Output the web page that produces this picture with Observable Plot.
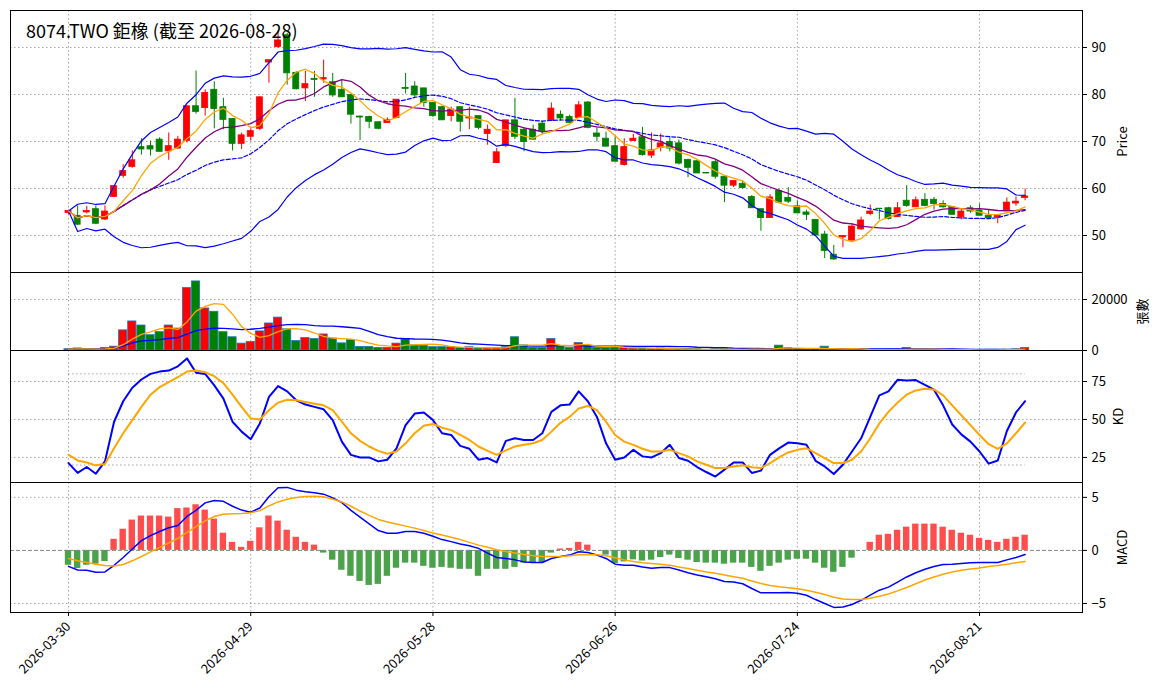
<!DOCTYPE html>
<html><head><meta charset="utf-8">
<script src="https://cdn.jsdelivr.net/npm/d3@7"></script>
<script src="https://cdn.jsdelivr.net/npm/@observablehq/plot@0.6"></script>
<style>
body{margin:0;background:#fff;font-family:"Noto Sans CJK TC","Noto Sans",sans-serif;}
#chart{position:relative;width:1164px;}
#chart svg{display:block;overflow:visible;position:relative;}
#title{position:absolute;left:26px;top:17px;font-size:18px;color:#000;z-index:2;}
</style></head><body>
<div id="chart"><div id="title">8074.TWO 鉅橡 (截至 2026-08-28)</div></div>
<script>
// price data, one bar per trading day
const openP = [54.8,54.2,54.9,55.6,53.4,58.2,62.7,64.6,68.8,69.0,70.4,67.9,68.5,70.1,77.5,77.1,81.0,77.3,74.8,69.5,71.0,72.7,86.8,90.1,92.6,84.6,
81.3,83.3,83.2,82.6,81.0,79.9,75.3,75.2,74.1,73.9,75.0,81.4,81.7,81.3,78.2,77.3,75.4,77.3,74.9,75.4,71.6,65.4,69.0,74.5,72.5,72.5,
73.8,74.4,75.7,75.2,75.0,78.3,71.7,70.6,69.0,65.0,70.1,70.9,67.0,68.7,69.9,69.6,66.1,65.8,63.3,65.6,62.5,60.6,61.0,58.2,55.6,53.7,59.5,
58.0,56.2,54.9,53.3,50.2,45.9,49.6,48.9,51.3,54.6,55.7,55.8,53.9,57.4,56.0,57.6,57.6,56.7,56.1,53.9,55.8,55.3,54.2,53.9,55.4,56.8,58.0];
const highP = [55.4,56.3,56.2,56.3,56.3,60.6,65.1,68.0,70.6,70.1,70.8,71.8,71.1,77.5,85.0,81.0,82.7,79.2,74.8,71.8,72.7,79.4,87.3,93.5,93.0,84.9,
84.9,84.9,87.3,84.5,83.1,79.9,75.4,75.4,74.1,75.0,78.9,84.5,82.7,81.3,78.2,77.5,77.3,77.3,77.3,75.4,73.5,68.5,74.4,79.2,73.0,73.5,
74.3,78.2,76.5,75.6,78.5,78.5,72.9,72.0,71.1,70.6,71.5,73.0,71.8,71.6,70.8,70.3,66.2,66.0,63.3,66.0,62.5,61.6,61.6,58.5,55.6,58.7,59.9,
60.2,57.4,55.4,53.3,50.9,47.9,49.9,52.5,53.9,56.5,55.7,56.0,57.0,60.6,58.2,58.9,58.1,57.4,56.1,55.6,56.3,56.7,55.4,54.2,58.0,58.2,59.9];
const lowP = [54.4,52.1,54.6,52.3,53.2,58.1,62.2,64.3,67.1,66.9,67.8,66.0,68.3,69.7,75.8,75.4,72.7,72.5,68.0,68.3,70.1,72.3,82.4,89.8,82.0,81.0,
78.5,79.4,82.4,79.4,79.4,73.7,70.2,72.7,72.5,73.9,74.9,80.1,79.4,77.3,75.1,74.5,74.2,72.0,72.5,72.5,69.2,65.3,68.7,70.4,67.8,70.2,
71.5,74.4,74.3,73.9,74.9,72.7,69.9,68.9,65.7,64.8,70.1,66.9,66.4,67.8,67.8,65.0,62.3,63.2,63.1,62.0,57.0,60.2,59.9,55.8,50.9,53.7,57.0,
56.8,54.7,53.2,50.0,45.1,44.7,47.4,48.9,51.1,54.2,53.3,53.3,53.9,56.0,56.0,56.1,55.4,55.8,54.4,53.3,54.7,54.2,53.7,52.5,55.3,56.2,57.4];
const closeP = [55.2,52.3,55.2,52.5,55.1,60.5,63.7,66.0,68.3,68.3,67.8,69.0,70.4,77.5,76.3,80.3,76.9,74.6,69.5,71.3,72.2,79.4,87.3,91.5,84.5,81.1,
82.2,83.1,83.5,79.8,79.4,75.7,75.1,74.2,72.7,74.6,78.9,81.2,79.8,78.2,75.4,74.5,76.8,74.2,75.1,72.9,72.5,67.7,74.5,71.0,69.9,70.4,
72.2,77.0,74.9,73.9,77.7,72.9,71.0,68.9,65.7,68.8,70.6,67.1,68.1,69.6,68.5,65.3,64.4,63.2,63.2,62.5,60.6,61.6,60.1,55.8,53.7,58.1,57.0,
57.2,54.7,54.4,50.0,46.7,44.9,49.9,51.9,53.2,55.1,55.6,53.5,55.8,56.3,57.5,56.3,56.7,56.0,54.4,55.1,55.1,54.2,53.7,54.2,57.0,57.2,58.3];
const volume = [500,800,500,500,1000,1500,7900,11400,9800,6000,7200,9800,8600,24500,27100,16500,15200,7200,5200,2700,3300,7500,10600,12900,8300,3700,
4900,4500,6300,4700,2800,4100,1400,1400,1000,1000,2700,4500,2000,1800,1300,1300,1300,1000,1300,800,1000,1000,1300,5200,2000,1000,
1000,4500,1800,1000,2900,1800,1000,1000,1500,1100,800,800,500,800,400,500,600,500,300,500,600,400,400,600,700,500,1900,
900,500,400,600,1500,500,300,500,400,300,300,400,400,1000,400,400,300,300,300,300,300,200,300,300,400,500,1000];
// KD
const kVals = [21.3,14.8,18.7,14.3,22.4,48.5,62.0,70.9,76.3,80.0,81.5,82.2,85.0,90.2,80.7,80.0,72.4,63.7,48.5,42.0,37.0,47.4,64.8,72.0,68.5,62.6,
59.8,58.3,56.7,49.6,35.4,26.7,25.0,25.0,22.4,23.5,31.0,46.3,53.9,54.6,49.6,40.9,39.8,32.6,30.7,23.5,24.6,21.7,35.9,37.6,36.5,36.5,
40.9,55.0,59.3,59.8,68.5,62.0,51.7,34.3,23.5,25.0,30.0,25.7,25.0,27.8,33.3,24.6,22.8,18.7,15.4,12.4,17.0,21.7,21.7,14.8,16.3,26.7,31.0,
34.8,34.3,33.3,22.8,19.1,14.1,20.2,28.9,37.6,51.7,65.9,68.5,76.1,75.7,75.9,72.8,69.6,59.3,46.7,40.2,35.4,28.9,20.9,23.0,42.4,54.6,62.0];
const dVals = [26.7,23.0,21.7,19.8,20.7,31.0,40.9,49.6,58.3,66.3,71.3,74.6,77.8,81.5,82.2,81.1,78.5,73.9,66.3,58.3,50.7,50.0,56.1,61.1,63.0,62.6,
61.5,60.4,59.3,56.1,48.5,40.9,35.9,32.2,29.3,27.4,28.9,34.3,40.9,45.9,47.0,44.6,43.0,39.8,36.5,32.2,29.3,26.7,29.6,32.2,33.3,34.3,
36.5,42.0,47.8,51.7,57.2,58.9,56.1,48.5,39.8,35.4,33.3,30.7,28.9,28.9,30.0,27.8,25.7,22.4,20.2,18.0,18.0,19.1,19.8,18.5,18.0,21.3,25.0,
28.3,30.0,31.1,27.8,24.6,21.3,21.3,23.5,28.9,37.6,47.4,55.0,61.1,66.3,69.1,70.2,69.8,65.9,59.3,52.8,46.3,39.8,33.7,30.7,34.3,40.9,48.0];
// MACD
const difVals = [-1.5,-1.84,-1.87,-2.06,-2.03,-1.4,-0.67,0.13,0.92,1.4,1.78,2.13,2.35,3.2,3.78,4.48,4.7,4.63,4.16,3.8,3.6,4.0,5.05,5.9,5.94,5.68,
5.52,5.43,5.3,4.95,4.5,3.78,3.14,2.5,1.87,1.62,1.62,1.78,1.78,1.62,1.33,1.02,0.83,0.6,0.44,0.19,-0.25,-0.67,-0.76,-0.89,-1.08,-1.14,
-1.14,-0.76,-0.57,-0.44,-0.13,-0.19,-0.44,-0.76,-1.3,-1.4,-1.4,-1.56,-1.68,-1.62,-1.62,-1.84,-2.1,-2.32,-2.48,-2.67,-2.92,-2.98,-3.14,-3.59,-4.0,-4.0,-4.0,
-3.97,-4.03,-4.22,-4.63,-5.0,-5.37,-5.33,-5.1,-4.7,-4.22,-3.75,-3.46,-2.98,-2.5,-2.1,-1.78,-1.52,-1.33,-1.3,-1.24,-1.17,-1.14,-1.14,-1.14,-0.89,-0.67,-0.38];
const deaVals = [-0.76,-0.98,-1.14,-1.3,-1.43,-1.46,-1.33,-0.98,-0.57,-0.13,0.29,0.7,1.14,1.71,2.25,2.79,3.2,3.4,3.46,3.49,3.56,3.75,4.19,4.57,4.83,4.98,
5.08,5.1,5.05,4.83,4.57,4.16,3.71,3.3,2.92,2.67,2.48,2.29,2.1,1.87,1.65,1.46,1.24,1.02,0.76,0.5,0.29,0.06,-0.1,-0.25,-0.38,-0.5,
-0.57,-0.57,-0.57,-0.5,-0.41,-0.38,-0.41,-0.5,-0.7,-0.89,-1.05,-1.17,-1.24,-1.3,-1.4,-1.56,-1.71,-1.87,-2.03,-2.16,-2.32,-2.48,-2.63,-2.89,-3.11,-3.3,-3.43,
-3.52,-3.62,-3.75,-3.94,-4.16,-4.41,-4.57,-4.63,-4.63,-4.5,-4.32,-4.1,-3.81,-3.49,-3.14,-2.79,-2.5,-2.25,-2.03,-1.87,-1.75,-1.65,-1.52,-1.43,-1.3,-1.17,-1.05];
const oscVals = [-1.4,-1.7,-1.4,-1.3,-1.05,1.05,2.0,2.86,3.24,3.24,3.24,3.14,3.94,4.0,4.3,3.8,2.95,1.62,0.76,0.29,0.86,2.13,3.24,2.76,1.9,1.24,
0.76,0.5,-0.25,-0.92,-1.87,-2.44,-2.92,-3.3,-3.2,-2.44,-1.68,-1.2,-1.2,-1.5,-1.68,-1.6,-1.68,-1.78,-1.78,-2.44,-1.78,-1.78,-1.78,-1.6,-1.2,-1.14,
-1.14,-0.25,0.13,0.19,0.76,0.5,0,-0.44,-1.24,-1.08,-0.89,-1.0,-0.92,-0.67,-0.44,-0.76,-0.92,-1.14,-1.2,-1.2,-1.3,-1.2,-1.2,-1.6,-1.97,-1.5,-1.2,
-0.92,-0.83,-0.83,-1.2,-1.68,-2.06,-1.6,-0.73,0,0.76,1.43,1.52,1.9,2.19,2.48,2.48,2.48,2.19,1.9,1.62,1.43,1.14,0.95,0.76,1.05,1.24,1.43];
const tickIdx = [0,20,40,60,80,100];
const tickLabels = ["2026-03-30","2026-04-29","2026-05-28","2026-06-26","2026-07-24","2026-08-21"];

const n = closeP.length;
const bars = d3.range(n).map(i => ({i, o: openP[i], h: highP[i], l: lowP[i], c: closeP[i], v: volume[i],
  k: kVals[i], d: dVals[i], dif: difVals[i], dea: deaVals[i], osc: oscVals[i], up: closeP[i] >= openP[i]}));

// moving averages (partial window at the start)
function ma(arr, w) {
  return arr.map((_, i) => d3.mean(arr.slice(Math.max(0, i - w + 1), i + 1)));
}
function sd(arr, w) {
  return arr.map((_, i) => { const s = arr.slice(Math.max(0, i - w + 1), i + 1); return s.length > 1 ? d3.deviation(s) * Math.sqrt((s.length - 1) / s.length) : 0; });
}
const ma5 = ma(closeP, 5), ma10 = ma(closeP, 10), ma20 = ma(closeP, 20), sd20 = sd(closeP, 20);
const vma5 = ma(volume, 5), vma20 = ma(volume, 20);
bars.forEach((b, i) => { b.ma5 = ma5[i]; b.ma10 = ma10[i]; b.ma20 = ma20[i]; b.bu = ma20[i] + 2 * sd20[i]; b.bl = ma20[i] - 2 * sd20[i]; b.vma5 = vma5[i]; b.vma20 = vma20[i]; });

const xDomain = [-6.37, 111.3];
const common = {width: 1164, marginLeft: 10, marginRight: 82, style: {fontFamily: "Noto Sans CJK TC, Noto Sans, sans-serif", fontSize: "13px", overflow: "visible"}};
const up = "red", down = "green";
const grid = {stroke: "#999", strokeDasharray: "1.5,2.5", strokeOpacity: 0.9};
const xGrid = Plot.ruleX(tickIdx, grid);
const hw = 0.33;

const pricePlot = Plot.plot({...common, height: 272, marginTop: 10, marginBottom: 0,
  x: {domain: xDomain, axis: null},
  y: {domain: [42.13, 97.87], axis: "right", ticks: [50,60,70,80,90], tickSize: 4, label: "Price", labelAnchor: "center", labelArrow: "none", labelOffset: 44},
  marks: [
    xGrid, Plot.ruleY([50,60,70,80,90], grid),
    Plot.ruleX(bars, {x: "i", y1: "l", y2: "h", stroke: d => d.up ? up : down, strokeWidth: 1}),
    Plot.rect(bars, {x1: d => d.i - hw, x2: d => d.i + hw, y1: "o", y2: "c", fill: d => d.up ? up : down, stroke: d => d.up ? up : down, strokeWidth: 0.8}),
    Plot.line(bars, {x: "i", y: "bu", stroke: "blue", strokeWidth: 1.2}),
    Plot.line(bars, {x: "i", y: "bl", stroke: "blue", strokeWidth: 1.2}),
    Plot.line(bars, {x: "i", y: "ma20", stroke: "blue", strokeWidth: 1.2, strokeDasharray: "4,2"}),
    Plot.line(bars, {x: "i", y: "ma10", stroke: "purple", strokeWidth: 1.3}),
    Plot.line(bars, {x: "i", y: "ma5", stroke: "orange", strokeWidth: 1.3}),
    Plot.frame({stroke: "black"})
  ]});

const volPlot = Plot.plot({...common, height: 78, marginTop: 0, marginBottom: 0,
  x: {domain: xDomain, axis: null},
  y: {domain: [0, 30600], axis: "right", ticks: [0, 20000], tickFormat: d => String(d), tickSize: 4, label: "張數", labelAnchor: "center", labelArrow: "none", labelOffset: 64},
  marks: [
    xGrid, Plot.ruleY([0, 20000], grid),
    Plot.rect(bars, {x1: d => d.i - 0.45, x2: d => d.i + 0.45, y1: 0, y2: "v", fill: d => d.up ? up : down, stroke: "#1f77b4", strokeWidth: 0.8}),
    Plot.line(bars, {x: "i", y: "vma20", stroke: "blue", strokeWidth: 1.3}),
    Plot.line(bars, {x: "i", y: "vma5", stroke: "orange", strokeWidth: 1.3}),
    Plot.frame({stroke: "black"})
  ]});

const kdPlot = Plot.plot({...common, height: 132, marginTop: 0, marginBottom: 0,
  x: {domain: xDomain, axis: null},
  y: {domain: [8.5, 95.4], axis: "right", ticks: [25, 50, 75], tickSize: 4, label: "KD", labelAnchor: "center", labelArrow: "none", labelOffset: 40},
  marks: [
    xGrid, Plot.ruleY([25, 50, 75], grid),
    Plot.ruleY([20, 80], {x1: 0, x2: n - 1, ...grid}),
    Plot.line(bars, {x: "i", y: "k", stroke: "blue", strokeWidth: 2}),
    Plot.line(bars, {x: "i", y: "d", stroke: "orange", strokeWidth: 2}),
    Plot.frame({stroke: "black"})
  ]});

const macdPlot = Plot.plot({...common, height: 216, marginTop: 0, marginBottom: 86,
  x: {domain: xDomain, ticks: tickIdx, tickFormat: i => tickLabels[tickIdx.indexOf(i)], tickRotate: -45, tickSize: 4, label: null},
  y: {domain: [-5.85, 6.4], axis: "right", ticks: [-5, 0, 5], tickSize: 4, label: "MACD", labelAnchor: "center", labelArrow: "none", labelOffset: 44},
  marks: [
    xGrid, Plot.ruleY([-5, 5], grid),
    Plot.rect(bars, {x1: d => d.i - 0.35, x2: d => d.i + 0.35, y1: 0, y2: "osc", fill: d => d.osc >= 0 ? "#ff4d4d" : "#4aa34a"}),
    Plot.ruleY([0], {stroke: "#888", strokeDasharray: "4,2"}),
    Plot.line(bars, {x: "i", y: "dif", stroke: "blue", strokeWidth: 1.5}),
    Plot.line(bars, {x: "i", y: "dea", stroke: "orange", strokeWidth: 1.5}),
    Plot.frame({stroke: "black"})
  ]});

const chart = document.getElementById("chart");
[pricePlot, volPlot, kdPlot, macdPlot].forEach(p => chart.appendChild(p));
</script>
</body></html>
